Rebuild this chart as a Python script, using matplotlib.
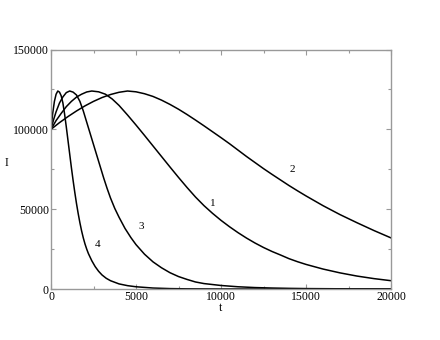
import matplotlib
matplotlib.use("Agg")
import matplotlib.pyplot as plt
from matplotlib.ticker import MultipleLocator

plt.rcParams['font.family'] = ['Liberation Serif', 'DejaVu Serif']

# curve 1
t1 = [0, 300, 600, 900, 1200, 1500, 1800, 2100, 2400, 2800, 3200, 3600, 4000, 4500,
      5000, 5500, 6000, 6500, 7000, 7500, 8000, 8500, 9000, 9500, 10000, 10500,
      11000, 11500, 12000, 12500, 13000, 13500, 14000, 14500, 15000, 16000, 17000,
      18000, 19000, 20000]
i1 = [100000, 105500, 110000, 114200, 117500, 120200, 122000, 123400, 124000, 123500,
      122000, 119000, 115000, 109000, 102700, 96200, 89600, 83000, 76400, 69900, 63600,
      57600, 52200, 47400, 43000, 39000, 35300, 31900, 28800, 26000, 23500, 21300,
      19000, 17100, 15400, 12500, 10100, 8100, 6500, 5200]

# curve 2
t2 = [0, 500, 1000, 1500, 2000, 2500, 3000, 3500, 4000, 4500, 5000, 5500, 6000, 6500,
      7000, 7500, 8000, 8500, 9000, 9500, 10000, 10500, 11000, 11500, 12000, 12500,
      13000, 13500, 14000, 14500, 15000, 16000, 17000, 18000, 19000, 20000]
i2 = [100000, 104200, 108000, 111500, 114700, 117500, 119900, 121800, 123200, 124000,
      123500, 122300, 120600, 118300, 115600, 112600, 109300, 105800, 102200, 98500,
      94800, 91000, 87000, 83000, 79200, 75400, 71800, 68300, 64800, 61500, 58300,
      52200, 46600, 41500, 36600, 32000]

# curve 3
t3 = [0, 150, 300, 500, 700, 900, 1100, 1300, 1500, 1700, 1900, 2100, 2300, 2500, 2700,
      2900, 3100, 3300, 3500, 3750, 4000, 4350, 4700, 5000, 5500, 6000, 6500, 7000,
      7500, 8000, 8500, 9000, 10000, 11000, 12000, 13000, 14000, 15000, 17500, 20000]
i3 = [100000, 106000, 111000, 116500, 120300, 123000, 124000, 123300, 121500, 117500,
      111500, 104500, 97500, 90500, 83500, 76500, 69500, 63000, 57000, 50500, 45000,
      38000, 32200, 27800, 21800, 17000, 13300, 10200, 7800, 6000, 4400, 3400, 2200,
      1400, 900, 600, 400, 260, 100, 40]

# curve 4
t4 = [0, 100, 200, 300, 400, 500, 600, 700, 800, 900, 1000, 1100, 1200, 1300, 1400,
      1500, 1600, 1700, 1800, 1900, 2000, 2100, 2200, 2400, 2600, 2800, 3000, 3250,
      3500, 4000, 4500, 5000, 6000, 7000, 8000, 10000, 15000, 20000]
i4 = [100000, 110000, 117500, 122000, 124000, 123300, 121000, 116500, 109500, 101500,
      93000, 84500, 76000, 68000, 60500, 53500, 47200, 41500, 36400, 32000, 28200,
      25000, 22200, 17700, 14000, 11100, 8800, 6700, 5200, 3200, 2100, 1400, 600, 250,
      100, 20, 0, 0]

curves = [(t1, i1), (t2, i2), (t3, i3), (t4, i4)]
labels = ['1', '2', '3', '4']
label_pos = [(9500, 53700), (14200, 75100), (5280, 39000), (2750, 28000)]

fig = plt.figure(figsize=(4.4, 3.4), dpi=100)
ax = fig.add_axes([51 / 440, 51 / 340, 340 / 440, 239.5 / 340])

for t, i in curves:
    ax.plot(t, i, color='black', lw=1.1)

for lab, (x, y) in zip(labels, label_pos):
    ax.text(x, y, lab, fontsize=8, ha='center', va='center')

ax.set_xlim(0, 20000)
ax.set_ylim(0, 150000)
ax.xaxis.set_major_locator(MultipleLocator(5000))
ax.xaxis.set_minor_locator(MultipleLocator(2500))
ax.yaxis.set_major_locator(MultipleLocator(50000))
ax.yaxis.set_minor_locator(MultipleLocator(25000))
ax.tick_params(which='both', direction='in', top=True, right=True,
               color='#999999', labelsize=8.5, pad=1.5)
ax.tick_params(which='major', length=3.5, width=0.8)
ax.tick_params(which='minor', length=2.2, width=0.8)
for s in ax.spines.values():
    s.set_color('#999999')
    s.set_linewidth(1.0)

ax.set_xlabel('t', fontsize=8.5, labelpad=-1)
ax.set_ylabel('I', fontsize=8.5, rotation=0)
ax.yaxis.set_label_coords(-0.13, 0.5)

fig.savefig('out.png', dpi=100)
